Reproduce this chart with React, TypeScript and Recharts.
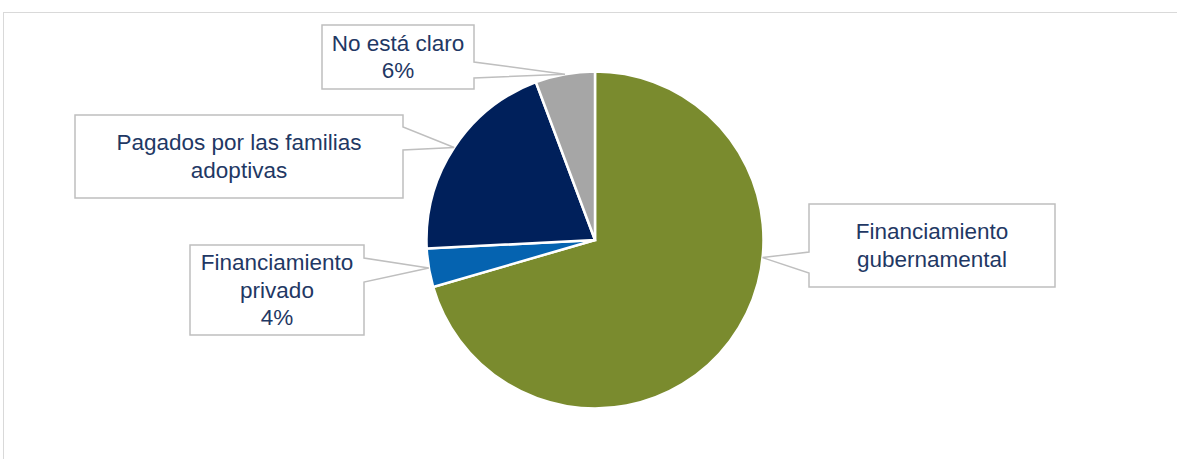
import React from "react"
import { PieChart, Pie, Cell } from "recharts"

// slice data, clockwise from 12 o'clock
const categories = ["Financiamiento gubernamental", "Financiamiento privado", "Pagados por las familias adoptivas", "No está claro"]
const shares = [70.5, 3.7, 20.1, 5.7]
const labelLines = [
  ["Financiamiento", "gubernamental"],
  ["Financiamiento", "privado"],
  ["Pagados por las familias", "adoptivas"],
  ["No está claro"],
]
const showPercent = [false, true, false, true]

const colors = ["#7A8B2E", "#0563B0", "#00205B", "#A6A6A6"]

// callout boxes (chart px), wedge base offsets from box top, optional anchor angle (deg, clockwise from top)
const callouts = [
  { x: 809, y: 204, w: 246, h: 83, side: "left", wedge: [48, 69], anchor: 96 },
  { x: 190, y: 245, w: 174, h: 90, side: "right", wedge: [13, 37], anchor: null },
  { x: 75, y: 115, w: 328, h: 83, side: "right", wedge: [12, 35], anchor: null },
  { x: 322, y: 25, w: 152, h: 64, side: "right", wedge: [37, 53], anchor: null },
]

const data = categories.map((name, i) => ({ name, value: shares[i] }))

const RADIAN = Math.PI / 180
const FONT = "'Liberation Sans', Arial, sans-serif"
const TEXT_COLOR = "#1F3864"

const renderCallout = (props: any) => {
  const { cx, cy, midAngle, outerRadius, index } = props
  const box = callouts[index]
  let tx: number, ty: number
  if (box.anchor != null) {
    const a = box.anchor * RADIAN
    tx = cx + outerRadius * Math.sin(a)
    ty = cy - outerRadius * Math.cos(a)
  } else {
    tx = cx + outerRadius * Math.cos(-midAngle * RADIAN)
    ty = cy + outerRadius * Math.sin(-midAngle * RADIAN)
  }
  const { x, y, w, h, wedge } = box
  const r = x + w
  const b = y + h
  let d: string
  if (box.side === "right") {
    d = `M${x},${y} L${r},${y} L${r},${y + wedge[0]} L${tx},${ty} L${r},${y + wedge[1]} L${r},${b} L${x},${b} Z`
  } else {
    d = `M${x},${y} L${r},${y} L${r},${b} L${x},${b} L${x},${y + wedge[1]} L${tx},${ty} L${x},${y + wedge[0]} Z`
  }
  const lines = [...labelLines[index]]
  if (showPercent[index]) lines.push(`${Math.round(shares[index])}%`)
  const lineH = 27.5
  const mx = x + w / 2
  const my = y + h / 2
  return (
    <g key={`callout-${index}`}>
      <path d={d} fill="#FFFFFF" stroke="#BFBFBF" strokeWidth={1.5} />
      <text textAnchor="middle" fontFamily={FONT} fontSize={22.5} fill={TEXT_COLOR}>
        {lines.map((t, i) => (
          <tspan key={i} x={mx} y={my + (i - (lines.length - 1) / 2) * lineH} dominantBaseline="central">
            {t}
          </tspan>
        ))}
      </text>
    </g>
  )
}

export default function App() {
  return (
    <div style={{ position: "absolute", left: 0, top: 0, width: 1177, height: 459, overflow: "hidden", background: "#fff" }}>
      <div
        style={{
          position: "absolute",
          left: 3,
          top: 12,
          width: 1200,
          height: 500,
          border: "1px solid #D9D9D9",
        }}
      />
      <div style={{ position: "absolute", left: 0, top: 0 }}>
        <PieChart width={1177} height={459} margin={{ top: 0, right: 0, bottom: 0, left: 0 }}>
          <Pie
            data={data}
            dataKey="value"
            nameKey="name"
            cx={595}
            cy={240}
            outerRadius={168.5}
            startAngle={90}
            endAngle={-270}
            stroke="#FFFFFF"
            strokeWidth={2.5}
            label={renderCallout}
            labelLine={false}
            isAnimationActive={false}
          >
            {data.map((d, i) => (
              <Cell key={d.name} fill={colors[i]} />
            ))}
          </Pie>
        </PieChart>
      </div>
    </div>
  )
}
